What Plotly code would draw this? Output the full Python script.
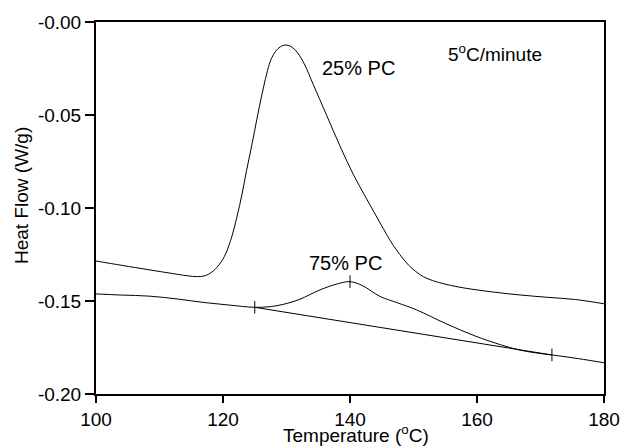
import plotly.graph_objects as go

# 25% PC curve
t25 = [100, 104, 108.5, 112, 114.3, 116.0, 117.2, 118.2, 119.2, 120.2, 121.2, 122.2, 123.0,
       123.7, 124.4, 125.0, 125.7, 126.4, 127.0, 127.6, 128.3, 129.0, 129.8, 130.6, 131.3,
       132.0, 132.8, 134.2, 136.3, 138.4, 140.5, 142.6, 144.7, 146.8, 148.9, 150.3, 151.6,
       153.0, 154.5, 157.3, 161, 166, 171, 175.5, 180]
v25 = [-0.1285, -0.1308, -0.1333, -0.1352, -0.1364, -0.1369, -0.1364, -0.1346, -0.1313, -0.1262,
       -0.1175, -0.1047, -0.0925, -0.0800, -0.0685, -0.0581, -0.0460, -0.0348, -0.0262, -0.0198,
       -0.0157, -0.0134, -0.0124, -0.0130, -0.0148, -0.0178, -0.0225, -0.0335, -0.0500, -0.0665,
       -0.0818, -0.0950, -0.1078, -0.1200, -0.1295, -0.1340, -0.1370, -0.1390, -0.1405, -0.1426,
       -0.1445, -0.1465, -0.1480, -0.1492, -0.1515]

# 75% PC curve
t75 = [100, 104, 108.5, 113, 117, 121, 125, 127.5, 129.5, 132, 135.3, 138, 140, 142, 144.7,
       147.5, 150.5, 155, 160, 165.7, 168.5, 171.8, 176, 180]
v75 = [-0.1462, -0.1468, -0.1474, -0.1490, -0.1508, -0.1522, -0.1534, -0.1530, -0.1518, -0.1492,
       -0.1440, -0.1408, -0.1396, -0.1418, -0.1475, -0.1510, -0.1548, -0.1620, -0.1692, -0.1755,
       -0.1775, -0.1790, -0.1810, -0.1832]

# integration baseline & marks
base_t = [125, 171.8]
base_v = [-0.1534, -0.1790]
mark_t = [125, 140, 171.8]
mark_v = [-0.1534, -0.1396, -0.1790]

xticks = [100, 120, 140, 160, 180]
yticks = [-0.20, -0.15, -0.10, -0.05, 0.0]
ytick_labels = ["-0.20", "-0.15", "-0.10", "-0.05", "-0.00"]

FONT = "Liberation Sans, Arial, sans-serif"

fig = go.Figure()
line = dict(color="black", width=1, shape="spline", smoothing=1.0)
fig.add_trace(go.Scatter(x=t25, y=v25, mode="lines", line=line, showlegend=False))
fig.add_trace(go.Scatter(x=t75, y=v75, mode="lines", line=line, showlegend=False))
fig.add_trace(go.Scatter(x=base_t, y=base_v, mode="lines",
                         line=dict(color="black", width=1), showlegend=False))
fig.add_trace(go.Scatter(x=mark_t, y=mark_v, mode="markers",
                         marker=dict(symbol="line-ns", size=9, line=dict(color="black", width=1)),
                         showlegend=False))

L, R, T, B = 96, 21, 22, 52
W, H = 625, 446
pw, ph = W - L - R, H - T - B

def px(x):
    return (x - L) / pw

def py(y):
    return (H - B - y) / ph

fig.update_layout(
    width=W, height=H, autosize=False,
    margin=dict(l=L, r=R, t=T, b=B, pad=0),
    plot_bgcolor="white", paper_bgcolor="white",
    font=dict(family=FONT, size=18, color="black"),
    xaxis=dict(range=[100, 180], tickvals=xticks, ticks="outside", ticklen=7, tickwidth=2,
               tickcolor="black", showline=True, linewidth=2, linecolor="black", mirror=True,
               showgrid=False, zeroline=False, tickfont=dict(size=19), automargin=False),
    yaxis=dict(range=[-0.20, 0.0], tickvals=yticks, ticktext=ytick_labels, ticks="outside",
               ticklen=9, tickwidth=2, tickcolor="black", showline=True, linewidth=2,
               linecolor="black", mirror=True, showgrid=False, zeroline=False,
               tickfont=dict(size=19), automargin=False),
    annotations=[
        dict(text="25% PC", x=141.4, y=-0.0245, xref="x", yref="y", showarrow=False,
             xanchor="center", yanchor="middle", font=dict(size=20)),
        dict(text="75% PC", x=139.3, y=-0.1298, xref="x", yref="y", showarrow=False,
             xanchor="center", yanchor="middle", font=dict(size=20)),
        dict(text="5<sup>o</sup>C/minute", x=162.8, y=-0.0165, xref="x", yref="y", showarrow=False,
             xanchor="center", yanchor="middle", font=dict(size=19)),
        dict(text="Temperature (<sup>o</sup>C)", x=px(356), y=py(434), xref="paper", yref="paper",
             showarrow=False, xanchor="center", yanchor="middle", font=dict(size=19)),
        dict(text="Heat Flow (W/g)", x=px(21), y=py(196), xref="paper", yref="paper",
             showarrow=False, xanchor="center", yanchor="middle", textangle=-90,
             font=dict(size=19)),
    ],
)

fig.write_html("out.html", config={"responsive": False, "displayModeBar": False})
with open("out.html", "r", encoding="utf-8") as f:
    html = f.read()
html = html.replace("<head>", "<head><style>html,body{margin:0;padding:0;overflow:hidden;}</style>", 1)
with open("out.html", "w", encoding="utf-8") as f:
    f.write(html)
